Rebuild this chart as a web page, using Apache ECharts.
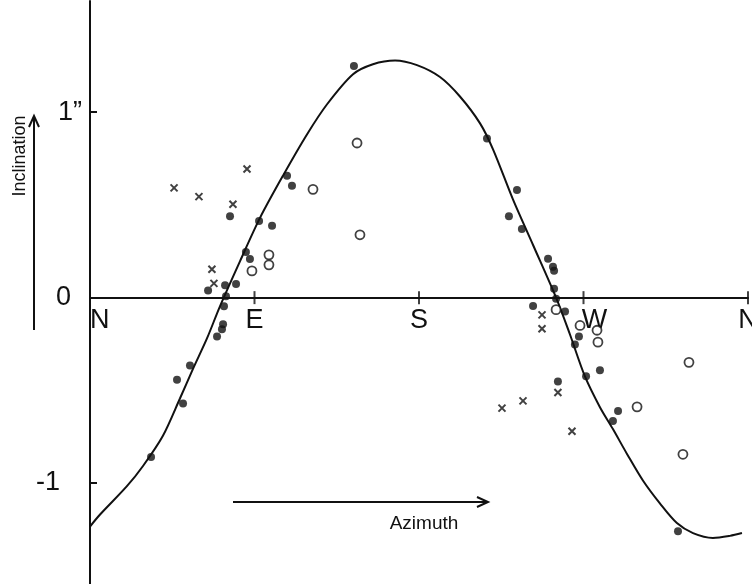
<!DOCTYPE html>
<html>
<head>
<meta charset="utf-8">
<script src="https://cdn.jsdelivr.net/npm/echarts@6/dist/echarts.min.js"></script>
<style>
  html, body { margin: 0; padding: 0; background: #fff; }
  #chart { width: 752px; height: 584px; }
</style>
</head>
<body>
<div id="chart"></div>
<script>
// azimuth in degrees (N=0, E=90, S=180, W=270), inclination in seconds of arc
const curveAz  = [0, 5.5, 20.2, 29, 39.9, 49.2, 56.4, 64, 71.1, 82.1, 93, 105.6, 118.7, 129.7, 143.9, 154.8, 166.9, 178.9, 191.5, 202.4, 213.4, 220.5, 231.4, 242.4, 255, 262.6, 270.8, 279, 286.1, 293.8, 302.6, 311.8, 321.1, 329.9, 340.8, 350.1, 356.7];
const curveVal = [-1.235, -1.17, -1.017, -0.908, -0.745, -0.544, -0.383, -0.22, -0.047, 0.197, 0.43, 0.658, 0.88, 1.043, 1.205, 1.259, 1.279, 1.254, 1.19, 1.085, 0.94, 0.80, 0.53, 0.284, 0, -0.199, -0.425, -0.591, -0.709, -0.843, -0.988, -1.11, -1.216, -1.27, -1.296, -1.285, -1.27];

const dotAz  = [33.4, 47.6, 50.9, 54.7, 69.5, 72.2, 72.8, 73.3, 74.4, 64.6, 73.9, 79.9, 85.3, 87.5, 92.5, 99.6, 76.6, 107.8, 110.5, 144.4, 217.2, 233.6, 229.2, 236.3, 250.6, 253.3, 253.9, 253.9, 255.0, 242.4, 259.9, 267.5, 265.3, 279.0, 271.4, 256.0, 288.9, 286.1, 321.7];
const dotVal = [-0.859, -0.443, -0.571, -0.366, -0.209, -0.170, -0.143, -0.046, 0.008, 0.039, 0.067, 0.073, 0.246, 0.209, 0.414, 0.388, 0.439, 0.658, 0.604, 1.250, 0.858, 0.580, 0.439, 0.370, 0.210, 0.167, 0.145, 0.048, -0.006, -0.045, -0.075, -0.209, -0.253, -0.391, -0.424, -0.453, -0.611, -0.666, -1.260];

const ringAz  = [88.6, 97.9, 97.9, 122.0, 146.1, 147.7, 255.0, 268.1, 277.4, 277.9, 299.3, 327.7, 324.4];
const ringVal = [0.144, 0.231, 0.177, 0.584, 0.834, 0.339, -0.065, -0.150, -0.176, -0.240, -0.589, -0.349, -0.845];

const crossAz  = [46.0, 59.6, 85.9, 78.2, 66.7, 67.8, 247.3, 247.3, 256.0, 236.9, 225.4, 263.7];
const crossVal = [0.592, 0.545, 0.694, 0.504, 0.153, 0.077, -0.093, -0.168, -0.512, -0.557, -0.596, -0.721];

const azTicks = { 0: 'N', 90: 'E', 180: 'S', 270: 'W', 360: 'N' };
const azTickMarks = [90, 180, 270, 360];
const incTicks = [-1, 0, 1];

const zip = (a, b) => a.map((v, i) => [v, b[i]]);
const ink = '#111';
const font = 'Liberation Sans';
const yMin = -1.55, yMax = 1.6;
const gridTop = 1, gridHeight = 584;
// lift the azimuth axis from the grid bottom up to inclination 0
const zeroLift = gridHeight * (0 - yMin) / (yMax - yMin);

const chart = echarts.init(document.getElementById('chart'));

chart.setOption({
  backgroundColor: '#fff',
  animation: false,
  grid: { left: 90, top: gridTop, width: 658, height: gridHeight, outerBoundsMode: 'none', containLabel: false },
  xAxis: {
    type: 'value', min: 0, max: 360, interval: 90, position: 'bottom',
    offset: -zeroLift,
    axisLine: { onZero: false, lineStyle: { color: ink, width: 2 } },
    axisTick: { show: false },
    splitLine: { show: false },
    axisLabel: {
      margin: 9,
      color: ink,
      fontFamily: font,
      fontSize: 27,
      alignMinLabel: 'left',
      formatter: v => v === 270 ? '{w|W}' : (azTicks[v] || ''),
      rich: { w: { fontFamily: font, fontSize: 27, color: ink, padding: [0, 0, 0, 22] } }
    }
  },
  yAxis: {
    type: 'value', min: yMin, max: yMax,
    axisLine: { onZero: false, lineStyle: { color: ink, width: 2 } },
    axisTick: { inside: true, length: 7, customValues: [-1, 1], lineStyle: { color: ink, width: 2 } },
    splitLine: { show: false },
    axisLabel: {
      customValues: incTicks,
      margin: 8,
      color: ink,
      fontFamily: font,
      fontSize: 27,
      formatter: v => v === 1 ? '{a|1\u201D}' : v === 0 ? '{b|0}' : '{c|-1}',
      rich: {
        a: { fontFamily: font, fontSize: 27, color: ink },
        b: { fontFamily: font, fontSize: 27, color: ink, padding: [0, 11, 0, 0] },
        c: { fontFamily: font, fontSize: 27, color: ink, padding: [0, 22, 0, 0] }
      }
    }
  },
  graphic: [
    { type: 'polyline', shape: { points: [[34, 330], [34, 116]] }, style: { stroke: ink, lineWidth: 2, fill: null } },
    { type: 'polyline', shape: { points: [[29, 127], [34, 116], [39, 127]] }, style: { stroke: ink, lineWidth: 2, fill: null } },
    { type: 'text', x: 20, y: 156, rotation: Math.PI / 2,
      style: { text: 'Inclination', font: '18px "Liberation Sans"', fill: ink, align: 'center', verticalAlign: 'middle' } },
    { type: 'polyline', shape: { points: [[233, 502], [488, 502]] }, style: { stroke: ink, lineWidth: 2, fill: null } },
    { type: 'polyline', shape: { points: [[477, 497], [488, 502], [477, 507]] }, style: { stroke: ink, lineWidth: 2, fill: null } },
    { type: 'text', x: 424, y: 524,
      style: { text: 'Azimuth', font: '19px "Liberation Sans"', fill: ink, align: 'center', verticalAlign: 'middle' } }
  ],
  series: [
    {
      // tick marks crossing the azimuth axis
      name: 'ticks', type: 'scatter', symbol: 'rect', symbolSize: [2, 13], clip: false, silent: true,
      itemStyle: { color: ink },
      data: azTickMarks.map(v => [v, 0]), z: 1
    },
    {
      name: 'fit', type: 'line', smooth: 0.3, symbol: 'none',
      lineStyle: { color: ink, width: 2 },
      data: zip(curveAz, curveVal), z: 2
    },
    {
      name: 'dots', type: 'scatter', symbol: 'circle', symbolSize: 8,
      itemStyle: { color: ink },
      data: zip(dotAz, dotVal), z: 3
    },
    {
      name: 'rings', type: 'scatter', symbol: 'circle', symbolSize: 9,
      itemStyle: { color: '#fff', borderColor: ink, borderWidth: 1.8 },
      data: zip(ringAz, ringVal), z: 3
    },
    {
      name: 'crosses', type: 'scatter', symbol: 'path://M0,0L10,10M10,0L0,10', symbolSize: 7,
      itemStyle: { color: 'none', borderColor: ink, borderWidth: 2 },
      data: zip(crossAz, crossVal), z: 3
    }
  ]
});
</script>
</body>
</html>
